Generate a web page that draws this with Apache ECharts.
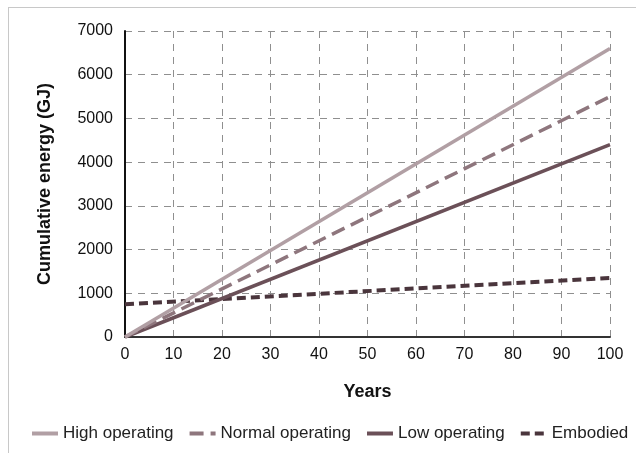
<!DOCTYPE html>
<html><head><meta charset="utf-8">
<script src="https://cdn.jsdelivr.net/npm/echarts@6/dist/echarts.min.js"></script>
<style>html,body{margin:0;padding:0;background:#fff}#c{width:636px;height:453px}</style>
</head><body><div id="c"></div>
<script>
var seriesNames = ['High operating', 'Normal operating', 'Low operating', 'Embodied'];
var years = [0, 100];
var highOperating = [0, 6600];
var normalOperating = [0, 5500];
var lowOperating = [0, 4400];
var embodied = [750, 1350];
var xTicks = {min: 0, max: 100, interval: 10};
var yTicks = {min: 0, max: 7000, interval: 1000};

function pairs(xs, ys) { return xs.map(function (x, i) { return [x, ys[i]]; }); }

var colors = ['#b19fa4', '#8e767d', '#6b5058', '#4a353c'];
var types = ['solid', [14, 7], 'solid', [9, 5]];
var widths = [3.5, 3.5, 3.5, 4];
var dataSets = [highOperating, normalOperating, lowOperating, embodied];
var font = 'Liberation Sans, Arial, sans-serif';

var chart = echarts.init(document.getElementById('c'));
chart.setOption({
  animation: false,
  textStyle: {fontFamily: font},
  grid: {left: 125, right: 26, top: 31, bottom: 116},
  graphic: [
    {type: 'line', shape: {x1: 8, y1: 7.5, x2: 636, y2: 7.5}, style: {stroke: '#c8c8c8', lineWidth: 1}},
    {type: 'line', shape: {x1: 8.5, y1: 7, x2: 8.5, y2: 453}, style: {stroke: '#c8c8c8', lineWidth: 1}}
  ],
  legend: {
    bottom: 6, left: 25, width: 611, padding: [5, 0, 5, 5],
    itemWidth: 26, itemHeight: 8, itemGap: 14,
    textStyle: {fontSize: 17, color: '#222', fontFamily: font},
    itemStyle: {opacity: 0},
    lineStyle: {width: 4},
    data: seriesNames
  },
  xAxis: {
    type: 'value', min: xTicks.min, max: xTicks.max, interval: xTicks.interval,
    name: 'Years', nameLocation: 'middle', nameGap: 46,
    nameTextStyle: {fontSize: 18, fontWeight: 'bold', color: '#111'},
    axisLine: {lineStyle: {color: '#333', width: 2}},
    axisTick: {show: false},
    axisLabel: {fontSize: 16, color: '#111', margin: 10},
    splitLine: {show: true, lineStyle: {color: '#8f8f8f', type: [7, 6], width: 1}}
  },
  yAxis: {
    type: 'value', min: yTicks.min, max: yTicks.max, interval: yTicks.interval,
    name: 'Cumulative energy (GJ)', nameLocation: 'middle', nameGap: 71,
    nameTextStyle: {fontSize: 18, fontWeight: 'bold', color: '#111'},
    axisLine: {show: true, lineStyle: {color: '#111', width: 2}},
    axisTick: {show: false},
    axisLabel: {fontSize: 16, color: '#111', margin: 12, formatter: function (v) { return String(v); }},
    splitLine: {show: true, lineStyle: {color: '#8f8f8f', type: [7, 6], width: 1}}
  },
  series: seriesNames.map(function (n, i) {
    return {
      name: n, type: 'line', symbol: 'none',
      data: pairs(years, dataSets[i]),
      lineStyle: {color: colors[i], width: widths[i], type: types[i]},
      itemStyle: {color: colors[i]},
      z: 10 - i
    };
  })
});
</script></body></html>
